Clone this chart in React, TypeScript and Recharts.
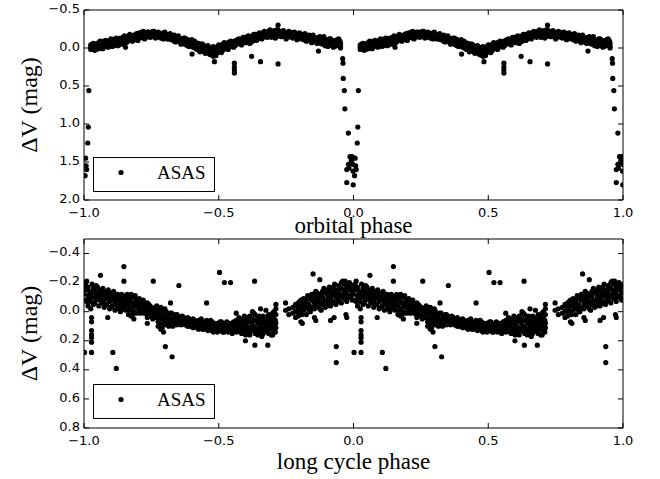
import React from "react";
import { ScatterChart, Scatter, XAxis, YAxis, ReferenceArea, Legend } from "recharts";

// phase ticks shared by both panels
const X_TICKS = [-1, -0.5, 0, 0.5, 1];
const ORB_Y_TICKS = [-0.5, 0, 0.5, 1, 1.5, 2];
const LONG_Y_TICKS = [-0.4, -0.2, 0, 0.2, 0.4, 0.6, 0.8];

// orbital light curve, one cycle (phase 0..1), several mags per phase bin
const ORB_BAND: number[][] = [
  [0.025, -0.01, 0.02, -0.04], [0.035, -0.03, 0.01, -0.06], [0.045, -0.05, -0.01, 0.02],
  [0.055, -0.07, -0.02, 0.01], [0.065, -0.04, -0.08, 0.0], [0.075, -0.06, -0.02, -0.09],
  [0.085, -0.08, -0.03, -0.05], [0.095, -0.1, -0.04, -0.07], [0.105, -0.06, -0.11, -0.02],
  [0.115, -0.09, -0.05, -0.12], [0.125, -0.11, -0.07, -0.03], [0.135, -0.13, -0.08, -0.1],
  [0.145, -0.09, -0.14, -0.05], [0.155, -0.12, -0.07, -0.15], [0.165, -0.14, -0.1, -0.16],
  [0.175, -0.16, -0.11, -0.13], [0.185, -0.12, -0.17, -0.15], [0.195, -0.15, -0.19, -0.11],
  [0.205, -0.17, -0.13, -0.2], [0.215, -0.14, -0.18, -0.21], [0.225, -0.19, -0.15, -0.12],
  [0.235, -0.16, -0.21, -0.18], [0.245, -0.2, -0.14, -0.17], [0.255, -0.18, -0.22, -0.15],
  [0.265, -0.16, -0.2, -0.13], [0.275, -0.19, -0.15, -0.21], [0.285, -0.17, -0.13, -0.19],
  [0.295, -0.15, -0.2, -0.12], [0.305, -0.18, -0.14, -0.16], [0.315, -0.12, -0.17, -0.15],
  [0.325, -0.16, -0.11, -0.14], [0.335, -0.13, -0.09, -0.17], [0.345, -0.15, -0.1, -0.12],
  [0.355, -0.08, -0.13, -0.11], [0.365, -0.12, -0.06, -0.09], [0.375, -0.1, -0.05, -0.13],
  [0.385, -0.07, -0.11, -0.03], [0.395, -0.09, -0.04, -0.06], [0.405, -0.05, -0.08, -0.01],
  [0.415, -0.07, -0.02, 0.01], [0.425, -0.04, 0.0, -0.06], [0.435, -0.02, 0.03, -0.05],
  [0.445, 0.01, -0.03, 0.05], [0.455, 0.02, -0.01, 0.06], [0.465, 0.04, 0.0, 0.08],
  [0.475, 0.03, 0.07, -0.01], [0.485, 0.05, 0.01, 0.09], [0.495, 0.02, 0.06, -0.02],
  [0.505, 0.0, 0.04, -0.03], [0.515, -0.02, 0.03, -0.05], [0.525, -0.04, 0.01, -0.06],
  [0.535, -0.03, -0.07, 0.02], [0.545, -0.06, -0.02, -0.09], [0.555, -0.08, -0.04, -0.01],
  [0.565, -0.05, -0.1, -0.07], [0.575, -0.09, -0.06, -0.12], [0.585, -0.11, -0.07, -0.04],
  [0.595, -0.08, -0.13, -0.1], [0.605, -0.12, -0.09, -0.15], [0.615, -0.1, -0.14, -0.06],
  [0.625, -0.13, -0.16, -0.09], [0.635, -0.15, -0.11, -0.18], [0.645, -0.12, -0.17, -0.14],
  [0.655, -0.16, -0.19, -0.13], [0.665, -0.18, -0.14, -0.21], [0.675, -0.15, -0.2, -0.17],
  [0.685, -0.19, -0.16, -0.22], [0.695, -0.21, -0.17, -0.14], [0.705, -0.18, -0.23, -0.16],
  [0.715, -0.2, -0.15, -0.24], [0.725, -0.17, -0.21, -0.19], [0.735, -0.22, -0.18, -0.15],
  [0.745, -0.19, -0.16, -0.21], [0.755, -0.17, -0.2, -0.14], [0.765, -0.21, -0.15, -0.18],
  [0.775, -0.16, -0.19, -0.13], [0.785, -0.18, -0.14, -0.2], [0.795, -0.15, -0.19, -0.12],
  [0.805, -0.17, -0.13, -0.16], [0.815, -0.14, -0.18, -0.11], [0.825, -0.16, -0.12, -0.09],
  [0.835, -0.13, -0.17, -0.1], [0.845, -0.11, -0.15, -0.07], [0.855, -0.14, -0.09, -0.12],
  [0.865, -0.1, -0.13, -0.06], [0.875, -0.12, -0.08, -0.15], [0.885, -0.09, -0.05, -0.11],
  [0.895, -0.07, -0.11, -0.03], [0.905, -0.1, -0.06, -0.02], [0.915, -0.08, -0.04, -0.12],
  [0.925, -0.05, -0.09, -0.01], [0.935, -0.07, -0.03, -0.1], [0.945, -0.04, -0.08, -0.12],
  [0.952, -0.02, -0.06, 0.0],
];

// second pass over the same band, read at the in-between phases
const ORB_BAND2: number[][] = [
  [0.03, 0.0, -0.05], [0.04, -0.02, 0.03], [0.05, -0.06, 0.0], [0.06, -0.03, -0.09],
  [0.07, -0.07, 0.01], [0.08, -0.04, -0.1], [0.09, -0.08, -0.01], [0.1, -0.05, -0.12],
  [0.11, -0.1, -0.03], [0.12, -0.06, -0.13], [0.13, -0.09, -0.04], [0.14, -0.12, -0.07],
  [0.15, -0.1, -0.16], [0.16, -0.13, -0.08], [0.17, -0.11, -0.18], [0.18, -0.14, -0.09],
  [0.19, -0.17, -0.12], [0.2, -0.15, -0.1], [0.21, -0.19, -0.16], [0.22, -0.13, -0.22],
  [0.23, -0.17, -0.14], [0.24, -0.21, -0.16], [0.25, -0.15, -0.19], [0.26, -0.22, -0.17],
  [0.27, -0.14, -0.18], [0.28, -0.2, -0.16], [0.29, -0.13, -0.18], [0.3, -0.21, -0.15],
  [0.31, -0.16, -0.12], [0.32, -0.19, -0.14], [0.33, -0.11, -0.15], [0.34, -0.14, -0.08],
  [0.35, -0.12, -0.16], [0.36, -0.1, -0.05], [0.37, -0.13, -0.08], [0.38, -0.04, -0.1],
  [0.39, -0.08, -0.02], [0.4, -0.11, -0.04], [0.41, -0.03, -0.09], [0.42, -0.06, 0.02],
  [0.43, -0.01, 0.05], [0.44, -0.05, 0.03], [0.45, 0.0, 0.07], [0.46, -0.03, 0.05],
  [0.47, 0.02, 0.09], [0.48, -0.02, 0.06], [0.49, 0.04, 0.1], [0.5, -0.04, 0.03],
  [0.51, 0.01, 0.06], [0.52, -0.02, -0.07], [0.53, 0.0, -0.05], [0.54, -0.04, -0.08],
  [0.55, -0.06, -0.02], [0.56, -0.09, -0.03], [0.57, -0.07, -0.11], [0.58, -0.05, -0.09],
  [0.59, -0.1, -0.14], [0.6, -0.07, -0.12], [0.61, -0.11, -0.16], [0.62, -0.14, -0.08],
  [0.63, -0.12, -0.18], [0.64, -0.16, -0.1], [0.65, -0.14, -0.2], [0.66, -0.17, -0.12],
  [0.67, -0.19, -0.22], [0.68, -0.14, -0.18], [0.69, -0.2, -0.24], [0.7, -0.16, -0.21],
  [0.71, -0.19, -0.13], [0.72, -0.22, -0.17], [0.73, -0.15, -0.2], [0.74, -0.23, -0.18],
  [0.75, -0.16, -0.12], [0.76, -0.19, -0.22], [0.77, -0.14, -0.18], [0.78, -0.21, -0.16],
  [0.79, -0.17, -0.11], [0.8, -0.2, -0.14], [0.81, -0.12, -0.17], [0.82, -0.15, -0.19],
  [0.83, -0.11, -0.14], [0.84, -0.16, -0.09], [0.85, -0.13, -0.17], [0.86, -0.08, -0.12],
  [0.87, -0.14, -0.1], [0.88, -0.06, -0.13], [0.89, -0.1, -0.15], [0.9, -0.04, -0.09],
  [0.91, -0.12, -0.07], [0.92, -0.05, -0.1], [0.93, -0.02, -0.08], [0.94, -0.06, -0.11],
  [0.95, -0.09, -0.03],
];

// stray points and the secondary-minimum dip
const ORB_EXTRA: number[][] = [
  [0.154, -0.01], [0.401, 0.08], [0.48, 0.11], [0.484, 0.18], [0.558, 0.2], [0.558, 0.25],
  [0.558, 0.29], [0.558, 0.33], [0.622, 0.11], [0.655, 0.18], [0.72, 0.21], [0.72, -0.3],
  [0.72, -0.24], [0.87, 0.04],
];

// primary eclipse
const ORB_ECLIPSE: number[][] = [
  [0.96, 0.14], [0.961, 0.2], [0.962, 0.4], [0.966, 0.56], [0.968, 0.8], [0.981, 1.12],
  [0.987, 1.43], [0.995, 1.43], [0.981, 1.53], [0.998, 1.53], [0.992, 1.48], [0.975, 1.6],
  [0.998, 1.62], [0.983, 1.58], [0.975, 1.77], [0.999, 1.8], [0.018, 0.56], [0.016, 1.04],
  [0.014, 1.25], [0.006, 1.45], [0.008, 1.55], [0.004, 1.68], [0.01, 1.6],
];

// long cycle, one cycle (phase 0..1)
const LONG_BAND: number[][] = [
  [0.005, -0.15, -0.08, -0.19], [0.015, -0.11, -0.04, -0.17], [0.025, -0.13, -0.07, -0.02],
  [0.035, -0.16, -0.1, -0.05], [0.045, -0.12, -0.18, -0.08], [0.055, -0.09, -0.14, -0.04],
  [0.065, -0.11, -0.06, -0.15], [0.075, -0.13, -0.08, -0.03], [0.085, -0.1, -0.05, -0.14],
  [0.095, -0.07, -0.12, -0.02], [0.105, -0.09, -0.04, -0.13], [0.115, -0.06, -0.11, -0.01],
  [0.125, -0.08, -0.03, -0.12], [0.135, -0.05, -0.1, 0.0], [0.145, -0.08, -0.02, -0.11],
  [0.155, -0.06, -0.1, -0.01], [0.165, -0.04, -0.09, 0.02], [0.175, -0.12, -0.07, 0.03, -0.02],
  [0.185, -0.1, -0.04, 0.05, 0.0], [0.195, -0.08, -0.03, 0.01], [0.205, -0.06, -0.01, -0.09],
  [0.215, -0.04, 0.0, -0.07], [0.225, -0.05, -0.02, 0.01], [0.235, -0.03, 0.02, -0.06],
  [0.245, -0.01, 0.03, -0.04], [0.255, -0.02, 0.02, 0.05], [0.265, 0.0, -0.03, 0.04],
  [0.275, 0.02, -0.02, 0.07, 0.1], [0.285, 0.01, 0.05, -0.03, 0.12], [0.295, 0.03, 0.08, -0.01, 0.14],
  [0.305, 0.04, 0.0, 0.09], [0.315, 0.02, 0.06, 0.1], [0.325, 0.05, 0.01, 0.08],
  [0.335, 0.03, 0.07, 0.04], [0.345, 0.06, 0.02, 0.09], [0.355, 0.04, 0.08, 0.05],
  [0.365, 0.07, 0.03, 0.06], [0.375, 0.05, 0.09, 0.08], [0.385, 0.07, 0.04, 0.1],
  [0.395, 0.06, 0.09, 0.08], [0.405, 0.08, 0.05, 0.11], [0.415, 0.07, 0.1, 0.09],
  [0.425, 0.09, 0.06, 0.12], [0.435, 0.08, 0.11, 0.05], [0.445, 0.1, 0.07, 0.12],
  [0.455, 0.09, 0.06, 0.11], [0.465, 0.08, 0.12, 0.1], [0.475, 0.1, 0.07, 0.13],
  [0.485, 0.09, 0.12, 0.08], [0.495, 0.11, 0.08, 0.14], [0.505, 0.1, 0.13, 0.07],
  [0.515, 0.12, 0.09, 0.14], [0.525, 0.08, 0.11, 0.13], [0.535, 0.1, 0.14, 0.09],
  [0.545, 0.12, 0.09, 0.11], [0.555, 0.1, 0.13, 0.07], [0.565, 0.06, 0.11, 0.14, 0.01],
  [0.575, 0.09, 0.12, 0.04], [0.585, 0.11, 0.07, 0.15], [0.595, 0.08, 0.12, 0.03],
  [0.605, 0.1, 0.14, 0.06], [0.615, 0.07, 0.12, 0.16, 0.03], [0.625, 0.09, 0.13, 0.05, 0.0],
  [0.635, 0.11, 0.06, 0.15, 0.02], [0.645, 0.08, 0.12, 0.04, 0.16], [0.655, 0.1, 0.06, 0.14, -0.02],
  [0.665, 0.07, 0.12, 0.03, 0.15], [0.675, 0.09, 0.05, 0.13, -0.01], [0.685, 0.11, 0.06, 0.15, 0.02],
  [0.695, 0.08, 0.12, 0.03, 0.16], [0.705, 0.1, 0.05, 0.13, 0.0], [0.712, -0.05, 0.02, 0.08, -0.02, 0.11],
  [0.748, -0.06, -0.01], [0.76, -0.02, 0.02], [0.775, -0.03, 0.01],
  [0.785, -0.05, 0.0, 0.04], [0.795, -0.02, -0.06, 0.03], [0.805, -0.04, 0.01, -0.08, 0.07],
  [0.815, -0.06, -0.01, -0.09], [0.825, -0.03, -0.07, 0.02], [0.835, -0.05, -0.1, -0.01],
  [0.845, -0.08, -0.03, -0.12], [0.855, -0.06, -0.11, 0.04, -0.02], [0.865, -0.09, -0.04, -0.13],
  [0.875, -0.07, -0.12, -0.02], [0.885, -0.1, -0.05, -0.14], [0.895, -0.08, -0.13, -0.03],
  [0.905, -0.11, -0.06, -0.15], [0.915, -0.09, -0.14, -0.04, 0.06], [0.925, -0.12, -0.07, -0.17],
  [0.935, -0.1, -0.15, -0.05], [0.945, -0.13, -0.18, -0.08], [0.955, -0.11, -0.16, -0.06, -0.2],
  [0.965, -0.14, -0.09, -0.19], [0.975, -0.12, -0.17, -0.07, 0.04], [0.985, -0.15, -0.1, -0.2],
  [0.995, -0.13, -0.18, -0.08],
];

const LONG_BAND2: number[][] = [
  [0.0, -0.12, -0.18], [0.01, -0.07, -0.21], [0.02, -0.14, -0.09], [0.03, -0.19, -0.11],
  [0.04, -0.06, -0.14], [0.05, -0.17, -0.11], [0.06, -0.08, -0.13], [0.07, -0.16, -0.1],
  [0.08, -0.05, -0.12], [0.09, -0.15, -0.09], [0.1, -0.11, -0.03], [0.11, -0.08, -0.14],
  [0.12, -0.1, -0.05], [0.13, -0.02, -0.09], [0.14, -0.12, -0.06], [0.15, -0.04, -0.09],
  [0.16, -0.07, -0.12], [0.17, -0.1, -0.01], [0.18, -0.06, 0.02], [0.19, -0.11, -0.05],
  [0.2, -0.03, -0.08], [0.21, -0.06, 0.01], [0.22, -0.02, -0.08], [0.23, -0.04, 0.01],
  [0.24, 0.0, -0.05], [0.25, -0.03, 0.03], [0.26, 0.01, -0.02], [0.27, 0.04, -0.04],
  [0.28, 0.08, 0.0], [0.29, 0.11, 0.02], [0.3, 0.06, -0.02], [0.31, 0.08, 0.03],
  [0.32, 0.01, 0.07], [0.33, 0.05, 0.1], [0.34, 0.02, 0.07], [0.35, 0.06, 0.03],
  [0.36, 0.09, 0.05], [0.37, 0.04, 0.07], [0.38, 0.06, 0.09], [0.39, 0.1, 0.05],
  [0.4, 0.07, 0.1], [0.41, 0.09, 0.06], [0.42, 0.11, 0.08], [0.43, 0.07, 0.1],
  [0.44, 0.12, 0.09], [0.45, 0.08, 0.11], [0.46, 0.1, 0.13], [0.47, 0.06, 0.09],
  [0.48, 0.11, 0.14], [0.49, 0.09, 0.12], [0.5, 0.13, 0.08], [0.51, 0.11, 0.07],
  [0.52, 0.1, 0.14], [0.53, 0.12, 0.07], [0.54, 0.08, 0.13], [0.55, 0.11, 0.15],
  [0.56, 0.09, 0.13], [0.57, 0.07, 0.12], [0.58, 0.1, 0.14], [0.59, 0.05, 0.13],
  [0.6, 0.09, 0.16], [0.61, 0.11, 0.04], [0.62, 0.07, 0.13], [0.63, 0.1, 0.01],
  [0.64, 0.06, 0.14], [0.65, 0.12, 0.03], [0.66, 0.08, 0.17], [0.67, 0.04, 0.11],
  [0.68, 0.13, 0.07], [0.69, 0.05, 0.1], [0.7, 0.12, 0.01], [0.71, 0.06, 0.14],
  [0.79, -0.04, 0.0], [0.8, -0.01, -0.07], [0.81, -0.05, 0.02], [0.82, -0.08, -0.02],
  [0.83, -0.04, -0.11], [0.84, -0.09, 0.0], [0.85, -0.03, -0.12], [0.86, -0.08, -0.14],
  [0.87, -0.05, -0.1], [0.88, -0.12, -0.01], [0.89, -0.07, -0.16], [0.9, -0.13, -0.04],
  [0.91, -0.08, -0.17], [0.92, -0.11, -0.06], [0.93, -0.14, -0.19], [0.94, -0.07, -0.12],
  [0.95, -0.16, -0.1], [0.96, -0.12, -0.21], [0.97, -0.09, -0.15], [0.98, -0.18, -0.11],
  [0.99, -0.1, -0.16],
];

const LONG_EXTRA: number[][] = [
  [0.002, 0.28], [0.028, 0.04], [0.028, 0.07], [0.028, 0.13], [0.028, 0.16], [0.028, 0.18],
  [0.028, 0.21], [0.028, 0.28], [0.061, -0.25], [0.148, -0.31], [0.148, -0.21], [0.088, 0.04],
  [0.107, 0.28], [0.12, 0.39], [0.235, 0.04], [0.235, 0.08], [0.257, -0.21], [0.302, 0.24],
  [0.327, 0.31], [0.352, -0.18], [0.321, -0.06], [0.455, -0.06], [0.503, -0.27], [0.521, -0.2],
  [0.544, -0.2], [0.633, -0.21], [0.599, 0.2], [0.634, 0.23], [0.682, 0.23], [0.7, 0.16],
  [0.85, -0.26], [0.875, -0.22], [0.936, 0.24], [0.936, 0.35], [0.81, 0.08], [0.86, 0.06],
  [0.972, 0.02], [0.928, 0.04], [0.969, -0.21],
];

// every phase is plotted twice: at phase and at phase - 1
function twoCycles(...groups: number[][][]) {
  const out: { x: number; y: number }[] = [];
  groups.forEach((rows) =>
    rows.forEach(([p, ...mags]) =>
      mags.forEach((m) => {
        out.push({ x: p, y: m });
        out.push({ x: p - 1, y: m });
      })
    )
  );
  return out;
}

const orbData = twoCycles(ORB_BAND, ORB_BAND2, ORB_EXTRA, ORB_ECLIPSE);
const longData = twoCycles(LONG_BAND, LONG_BAND2, LONG_EXTRA);

const PLOT_W = 539;
const TICK_LEN = 5;
const tickFont = { fontFamily: "DejaVu Sans", fontSize: 13, fill: "#000" };
const serif = "Liberation Serif";

const fmt = (v: number) => v.toFixed(1).replace("-", "\u2212");

const Dot = (props: any) => <circle cx={props.cx} cy={props.cy} r={2.6} fill="#000" />;

function makeXTick(plotH: number) {
  return (props: any) => {
    const { x, y, payload } = props;
    return (
      <g>
        <line x1={x} x2={x} y1={y} y2={y - TICK_LEN} stroke="#000" />
        <line x1={x} x2={x} y1={y - plotH} y2={y - plotH + TICK_LEN} stroke="#000" />
        <text x={x} y={y + 8} dy="0.71em" textAnchor="middle" {...tickFont}>
          {fmt(payload.value)}
        </text>
      </g>
    );
  };
}

const YTick = (props: any) => {
  const { x, y, payload } = props;
  return (
    <g>
      <line x1={x} x2={x + TICK_LEN} y1={y} y2={y} stroke="#000" />
      <line x1={x + PLOT_W - TICK_LEN} x2={x + PLOT_W} y1={y} y2={y} stroke="#000" />
      <text x={x - 4} y={y} dy="0.2em" textAnchor="end" {...tickFont}>
        {fmt(payload.value)}
      </text>
    </g>
  );
};

function LegendBox() {
  return (
    <svg width={123} height={36} style={{ display: "block" }}>
      <rect x={0.5} y={0.5} width={121} height={34} fill="#fff" stroke="#000" />
      <circle cx={28} cy={15.5} r={2.6} fill="#000" />
      <text x={64} y={21.5} fontFamily={serif} fontSize={19} fill="#000">ASAS</text>
    </svg>
  );
}

function Panel({ data, yDomain, yTicks, plotH, marginTop, marginBottom, height, xLabel, legendTop, xLabelY }: any) {
  return (
    <ScatterChart
      width={660}
      height={height}
      margin={{ top: marginTop, right: 37, bottom: marginBottom, left: 24 }}
    >
      <XAxis
        type="number"
        dataKey="x"
        domain={[-1, 1]}
        ticks={X_TICKS}
        interval={0}
        allowDataOverflow
        axisLine={false}
        tickLine={false}
        tickSize={0}
        tickMargin={0}
        height={30}
        tick={makeXTick(plotH)}
      />
      <YAxis
        type="number"
        dataKey="y"
        domain={yDomain}
        ticks={yTicks}
        interval={0}
        reversed
        allowDataOverflow
        axisLine={false}
        tickLine={false}
        tickSize={0}
        tickMargin={0}
        width={60}
        tick={YTick}
      />
      <ReferenceArea
        x1={-1}
        x2={1}
        y1={yDomain[0]}
        y2={yDomain[1]}
        fill="none"
        fillOpacity={0}
        stroke="#000"
        strokeOpacity={1}
      />
      <Scatter data={data} shape={Dot} isAnimationActive={false} />
      <Legend
        layout="horizontal"
        verticalAlign="middle"
        align="center"
        content={() => <LegendBox />}
        wrapperStyle={{ position: "absolute", left: 93, top: legendTop, width: 123, height: 36 }}
      />
      <text x={353.5} y={xLabelY} textAnchor="middle" fontFamily={serif} fontSize={23} fill="#000">
        {xLabel}
      </text>
      <text
        transform={`translate(37, ${marginTop + plotH / 2}) rotate(-90)`}
        textAnchor="middle"
        fontFamily={serif}
        fontSize={24}
        fill="#000"
      >
        ΔV (mag)
      </text>
    </ScatterChart>
  );
}

export default function App() {
  return (
    <div style={{ position: "absolute", left: 0, top: 0, width: 660, height: 479, background: "#fff" }}>
      <div style={{ position: "absolute", left: 0, top: 0 }}>
        <Panel
          data={orbData}
          yDomain={[-0.5, 2]}
          yTicks={ORB_Y_TICKS}
          plotH={190}
          marginTop={10}
          marginBottom={10}
          height={240}
          xLabel="orbital phase"
          xLabelY={233}
          legendTop={157}
        />
      </div>
      <div style={{ position: "absolute", left: 0, top: 228 }}>
        <Panel
          data={longData}
          yDomain={[-0.5, 0.8]}
          yTicks={LONG_Y_TICKS}
          plotH={189}
          marginTop={11}
          marginBottom={21}
          height={251}
          xLabel="long cycle phase"
          xLabelY={241}
          legendTop={156}
        />
      </div>
    </div>
  );
}
